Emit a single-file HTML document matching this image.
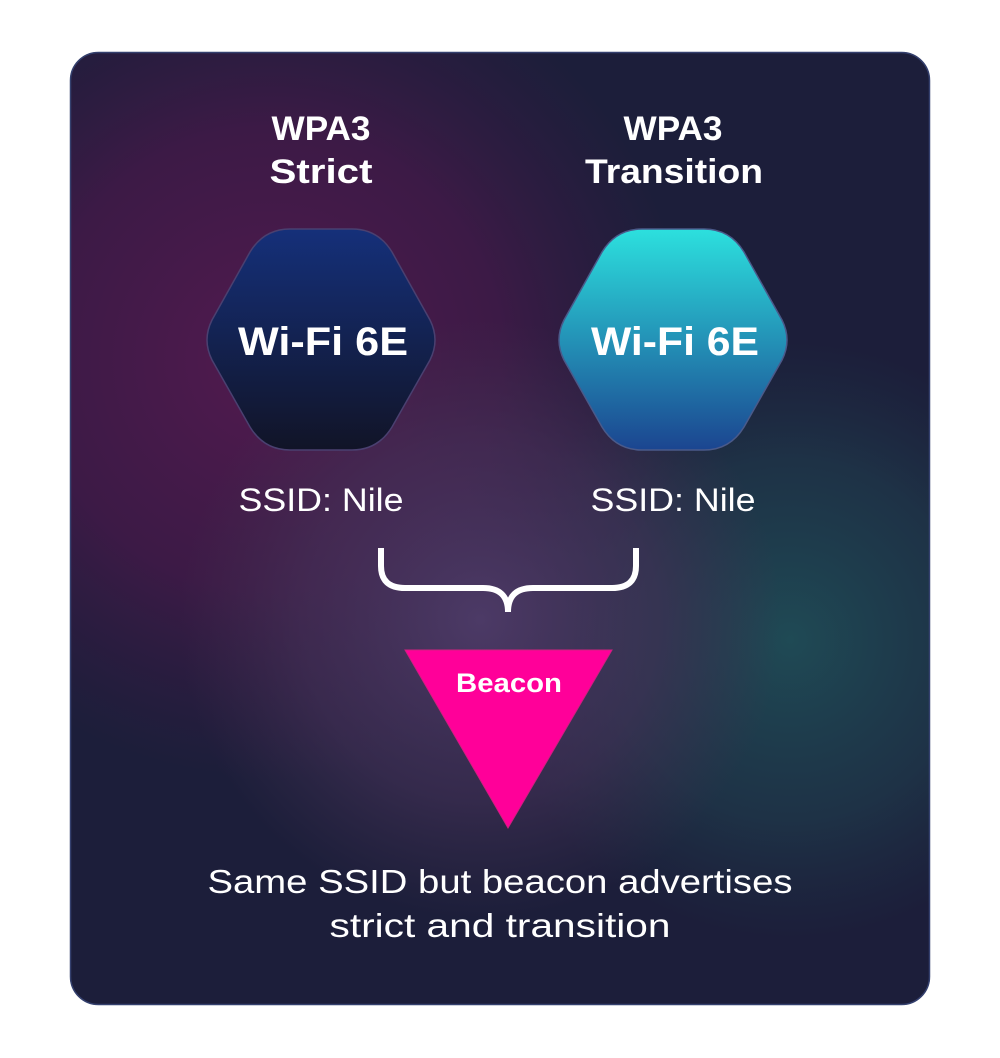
<!DOCTYPE html>
<html><head><meta charset="utf-8"><style>
html,body{margin:0;padding:0;background:#fff;}
svg{display:block;}
text{font-family:"Liberation Sans",sans-serif;fill:#fff;}
</style></head><body>
<svg width="1000" height="1058" viewBox="0 0 1000 1058" xmlns="http://www.w3.org/2000/svg">
<defs>
<clipPath id="card"><rect x="70" y="52" width="860" height="953" rx="28"/></clipPath>
<radialGradient id="purp" cx="270" cy="360" r="420" gradientUnits="userSpaceOnUse">
<stop offset="0" stop-color="#521a4f" stop-opacity="1"/>
<stop offset="0.55" stop-color="#47194a" stop-opacity="0.75"/>
<stop offset="1" stop-color="#3a1a45" stop-opacity="0"/>
</radialGradient>
<radialGradient id="teal" cx="790" cy="640" r="300" gradientUnits="userSpaceOnUse">
<stop offset="0" stop-color="#1f4a55" stop-opacity="1"/>
<stop offset="0.6" stop-color="#1f4250" stop-opacity="0.55"/>
<stop offset="1" stop-color="#1f3a4a" stop-opacity="0"/>
</radialGradient>
<radialGradient id="mid" cx="480" cy="620" r="300" gradientUnits="userSpaceOnUse">
<stop offset="0" stop-color="#4c3a66" stop-opacity="1"/>
<stop offset="0.6" stop-color="#453258" stop-opacity="0.6"/>
<stop offset="1" stop-color="#40304f" stop-opacity="0"/>
</radialGradient>
<linearGradient id="h1" x1="0" y1="0" x2="0" y2="1">
<stop offset="0" stop-color="#15307a"/><stop offset="1" stop-color="#111427"/>
</linearGradient>
<linearGradient id="h2" x1="0" y1="0" x2="0" y2="1">
<stop offset="0" stop-color="#2ce0de"/><stop offset="1" stop-color="#1b4590"/>
</linearGradient>
</defs>
<g clip-path="url(#card)">
<rect x="70" y="52" width="860" height="953" fill="#1c1e3a"/>
<rect x="70" y="52" width="860" height="953" fill="url(#purp)"/>
<rect x="70" y="52" width="860" height="953" fill="url(#teal)"/>
<rect x="70" y="52" width="860" height="953" fill="url(#mid)"/>
</g>
<rect x="70.5" y="52.5" width="859" height="952" rx="28" fill="none" stroke="#34406e" stroke-width="1.5"/>

<text x="321" y="140" font-size="34" font-weight="bold" text-anchor="middle" textLength="99" lengthAdjust="spacingAndGlyphs">WPA3</text>
<text x="321" y="183" font-size="34" font-weight="bold" text-anchor="middle" textLength="103" lengthAdjust="spacingAndGlyphs">Strict</text>
<text x="673" y="140" font-size="34" font-weight="bold" text-anchor="middle" textLength="99" lengthAdjust="spacingAndGlyphs">WPA3</text>
<text x="674" y="183" font-size="34" font-weight="bold" text-anchor="middle" textLength="178" lengthAdjust="spacingAndGlyphs">Transition</text>

<path d="M290,229 L352,229 Q378,229 392,252 L430,320 Q440,340 430,360 L392,427 Q378,450 352,450 L290,450 Q264,450 250,427 L212,360 Q202,340 212,320 L250,252 Q264,229 290,229 Z" fill="url(#h1)" stroke="#4a4070" stroke-width="1.5"/>
<path d="M642,229 L704,229 Q730,229 744,252 L782,320 Q792,340 782,360 L744,427 Q730,450 704,450 L642,450 Q616,450 602,427 L564,360 Q554,340 564,320 L602,252 Q616,229 642,229 Z" fill="url(#h2)" stroke="#4a5a8a" stroke-width="1.5"/>
<text x="323" y="355" font-size="40" font-weight="bold" text-anchor="middle" textLength="170" lengthAdjust="spacingAndGlyphs">Wi-Fi 6E</text>
<text x="675" y="355" font-size="40" font-weight="bold" text-anchor="middle" textLength="168" lengthAdjust="spacingAndGlyphs">Wi-Fi 6E</text>

<text x="321" y="511" font-size="32" text-anchor="middle" textLength="165" lengthAdjust="spacingAndGlyphs">SSID: Nile</text>
<text x="673" y="511" font-size="32" text-anchor="middle" textLength="165" lengthAdjust="spacingAndGlyphs">SSID: Nile</text>

<path d="M381,548 L381,566 Q381,588 405,588 L483,588 Q508,588 508,612 Q508,588 533,588 L612,588 Q636,588 636,566 L636,548" fill="none" stroke="#fff" stroke-width="6"/>

<polygon points="405,650 612,650 508,828" fill="#ff0099" stroke="#d02080" stroke-width="1"/>
<text x="509" y="692" font-size="27" font-weight="bold" text-anchor="middle" textLength="106" lengthAdjust="spacingAndGlyphs">Beacon</text>

<text x="500" y="893" font-size="33" text-anchor="middle" textLength="585" lengthAdjust="spacingAndGlyphs">Same SSID but beacon advertises</text>
<text x="500" y="937" font-size="33" text-anchor="middle" textLength="341" lengthAdjust="spacingAndGlyphs">strict and transition</text>
</svg>
</body></html>
